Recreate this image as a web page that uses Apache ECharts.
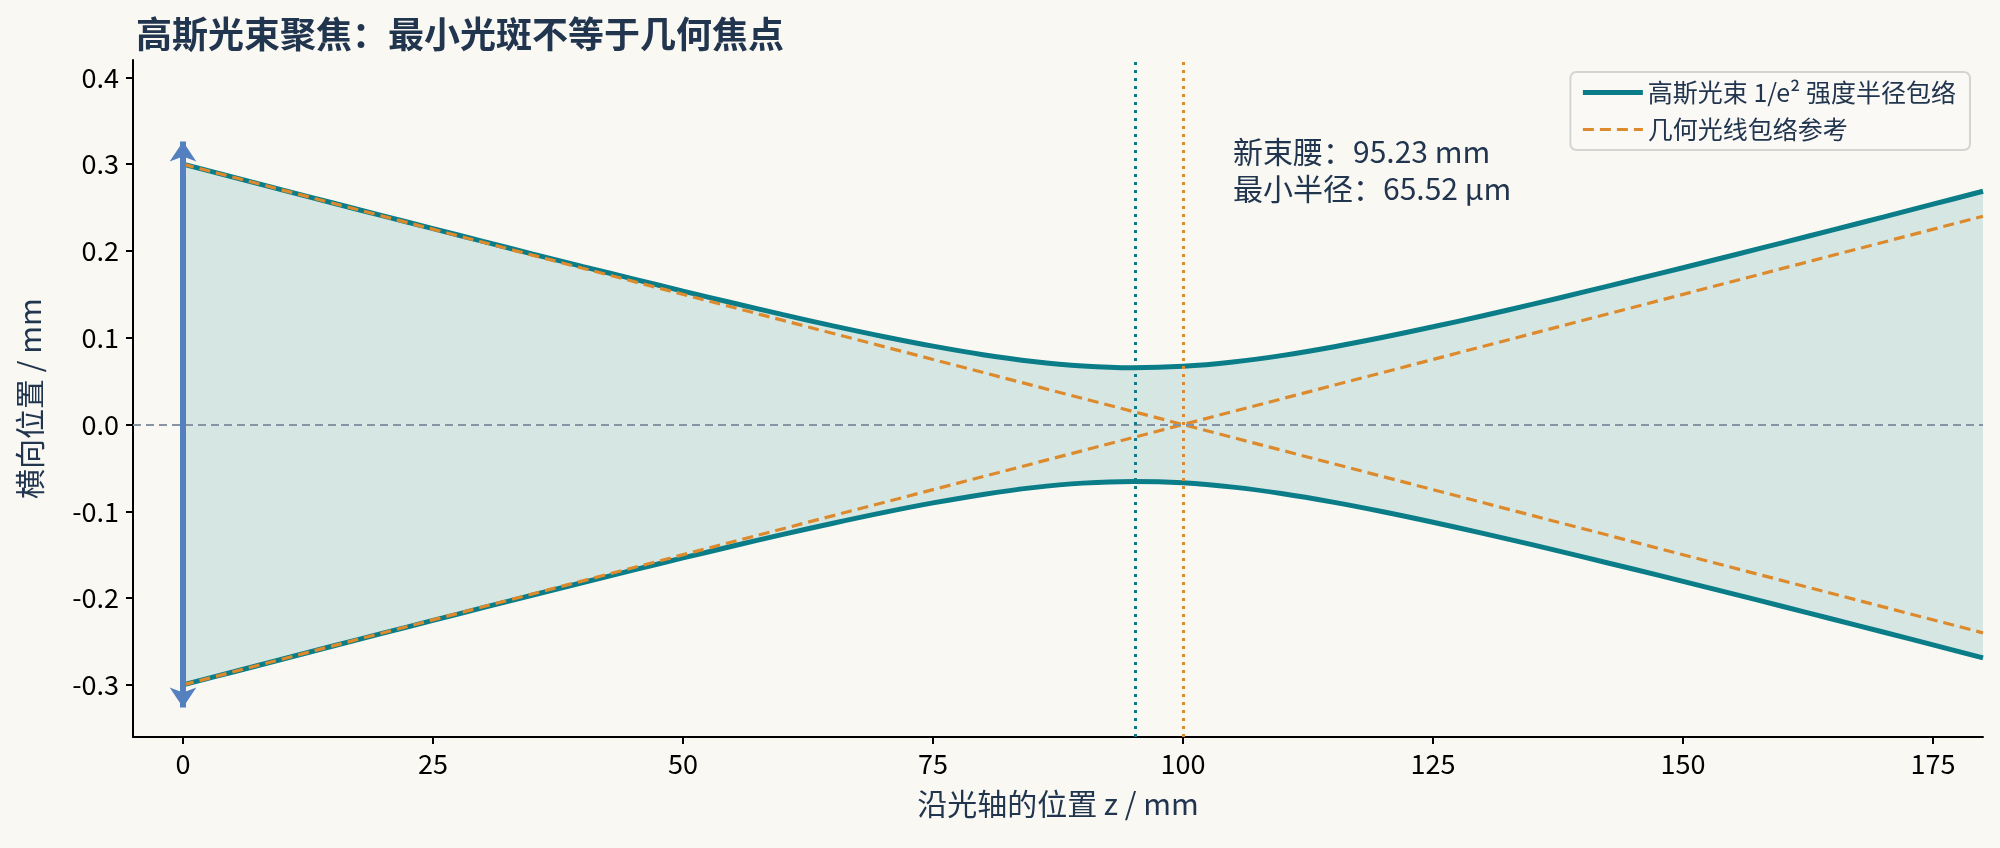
<!DOCTYPE html>
<html>
<head>
<meta charset="utf-8">
<script src="https://cdn.jsdelivr.net/npm/echarts@6/dist/echarts.min.js"></script>
<style>
  html, body { margin: 0; padding: 0; background: #f9f8f3; }
  #chart { width: 2000px; height: 848px; }
</style>
</head>
<body>
<div id="chart"></div>
<script>
var zPos = [0, 5, 10, 15, 20, 25, 30, 35, 40, 45, 50, 55, 60, 65, 70, 75, 80, 85, 90, 95,
            100, 105, 110, 115, 120, 125, 130, 135, 140, 145, 150, 155, 160, 165, 170, 175, 180];
var wUpper = [0.3000, 0.2851, 0.2701, 0.2552, 0.2404, 0.2257, 0.2110, 0.1964, 0.1820, 0.1678,
              0.1537, 0.1400, 0.1266, 0.1137, 0.1015, 0.0903, 0.0805, 0.0727, 0.0675, 0.0655,
              0.0671, 0.0721, 0.0797, 0.0894, 0.1005, 0.1126, 0.1254, 0.1387, 0.1525, 0.1665,
              0.1807, 0.1951, 0.2096, 0.2243, 0.2390, 0.2539, 0.2688];
// geometric ray envelope (mm)
var geoZ = [0, 100, 180];
var geoUpper = [0.30, 0.0, -0.24];
var geoLower = [-0.30, 0.0, 0.24];
var xTicks = [0, 25, 50, 75, 100, 125, 150, 175];
var yTicks = [-0.3, -0.2, -0.1, 0.0, 0.1, 0.2, 0.3, 0.4];
var waistZ = 95.23, focusZ = 100;
var waistText = '新束腰：95.23 mm\n最小半径：65.52 μm';

var teal = '#0a7d88', orange = '#dc8a2c', fill = '#d6e6e3', navy = '#22354f';
var font = '"Noto Sans CJK SC", "Noto Sans", sans-serif';

function pairs(xs, ys, sign) {
  return xs.map(function (x, i) { return [x, ys[i] * (sign || 1)]; });
}

var myChart = echarts.init(document.getElementById('chart'));

var option = {
  backgroundColor: '#f9f8f3',
  animation: false,
  textStyle: { fontFamily: font },
  title: {
    text: '高斯光束聚焦：最小光斑不等于几何焦点',
    left: 131, top: 11,
    textStyle: { fontSize: 36, fontWeight: 'bold', color: navy, fontFamily: font }
  },
  legend: {
    right: 30, top: 72,
    orient: 'vertical',
    itemWidth: 60, itemHeight: 10, itemGap: 12,
    padding: [8, 14, 8, 10],
    backgroundColor: '#faf9f5',
    borderColor: '#d4d4d2', borderWidth: 2, borderRadius: 6,
    itemStyle: { opacity: 0 },
    textStyle: { fontSize: 25, color: navy, fontFamily: font },
    data: [
      { name: '高斯光束 1/e² 强度半径包络', lineStyle: { width: 5, color: teal } },
      { name: '几何光线包络参考', lineStyle: { width: 3.2, color: orange, type: [11, 6] } }
    ]
  },
  grid: { left: 133, right: 17, top: 60, bottom: 111 },
  xAxis: {
    type: 'value', min: -5, max: 180,
    name: '沿光轴的位置 z / mm', nameLocation: 'middle', nameGap: 52,
    nameTextStyle: { fontSize: 30, color: navy, fontFamily: font },
    axisLine: { onZero: false, lineStyle: { color: '#000', width: 2 } },
    axisTick: { customValues: xTicks, length: 7, lineStyle: { color: '#000', width: 2 } },
    axisLabel: { customValues: xTicks, fontSize: 27, color: '#000', margin: 13 },
    splitLine: { show: false }
  },
  yAxis: {
    type: 'value', min: -0.36, max: 0.42,
    name: '横向位置 / mm', nameLocation: 'middle', nameGap: 88,
    nameTextStyle: { fontSize: 30, color: navy, fontFamily: font },
    axisLine: { show: true, onZero: false, lineStyle: { color: '#000', width: 2 } },
    axisTick: { show: true, customValues: yTicks, length: 7, lineStyle: { color: '#000', width: 2 } },
    axisLabel: {
      customValues: yTicks, fontSize: 27, color: '#000', margin: 14,
      formatter: function (v) { return v.toFixed(1); }
    },
    splitLine: { show: false }
  },
  series: [
    {
      name: '高斯光束 1/e² 强度半径包络',
      type: 'line', data: pairs(zPos, wUpper), showSymbol: false, symbol: 'none',
      smooth: 0.4, z: 3,
      lineStyle: { color: teal, width: 5 }, itemStyle: { color: teal },
      areaStyle: { color: fill, opacity: 1, origin: 0 },
      markLine: {
        silent: true, symbol: 'none', label: { show: false },
        data: [
          { yAxis: 0, lineStyle: { color: '#8794a5', width: 2, type: [8, 5] } },
          { xAxis: waistZ, lineStyle: { color: teal, width: 3, type: [3, 5] } },
          { xAxis: focusZ, lineStyle: { color: orange, width: 3, type: [3, 5] } }
        ]
      },
      markPoint: {
        silent: true, symbolSize: 0,
        data: [{ coord: [105, 0.2935], value: 0 }],
        label: {
          show: true, formatter: waistText, position: 'right', distance: 0,
          fontSize: 30, lineHeight: 37, color: navy, align: 'left', fontFamily: font
        }
      }
    },
    {
      name: 'gaussLower',
      type: 'line', data: pairs(zPos, wUpper, -1), showSymbol: false, symbol: 'none',
      smooth: 0.4, z: 3,
      lineStyle: { color: teal, width: 5 },
      areaStyle: { color: fill, opacity: 1, origin: 0 }
    },
    {
      name: '几何光线包络参考',
      type: 'line', data: pairs(geoZ, geoUpper), showSymbol: false, symbol: 'none', z: 4,
      lineStyle: { color: orange, width: 3.2, type: [11, 6] }, itemStyle: { color: orange }
    },
    {
      name: 'geoLower',
      type: 'line', data: pairs(geoZ, geoLower), showSymbol: false, symbol: 'none', z: 4,
      lineStyle: { color: orange, width: 3.2, type: [11, 6] },
      markLine: {
        silent: true, symbol: ['arrow', 'arrow'], symbolSize: [20, 20], label: { show: false },
        lineStyle: { color: '#5580c0', width: 6, type: 'solid' },
        data: [[{ coord: [0, -0.326] }, { coord: [0, 0.326] }]]
      }
    }
  ]
};
myChart.setOption(option);
</script>
</body>
</html>
